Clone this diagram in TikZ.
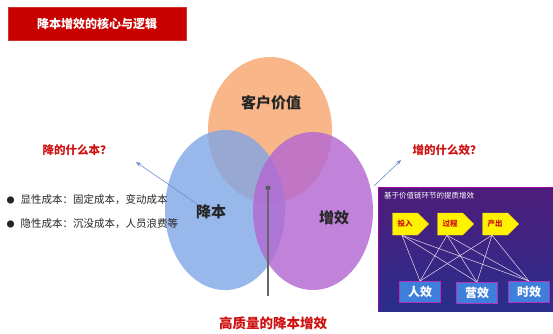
\documentclass[tikz,border=0pt]{standalone}
\usepackage{fontspec}
\setmainfont{Noto Sans CJK SC}
\newfontfamily\cjk{Noto Sans CJK SC}
\usetikzlibrary{shapes.geometric,shapes.symbols,arrows.meta}
\definecolor{tred}{HTML}{C80000}
\definecolor{qred}{HTML}{D01010}
\definecolor{corange}{HTML}{F7A46C}
\definecolor{cblue}{HTML}{7FA6E6}
\definecolor{cpurple}{HTML}{B468D2}
\definecolor{arrblue}{HTML}{6F8FD0}
\definecolor{boxtop}{HTML}{4E1C7A}
\definecolor{boxbot}{HTML}{2A2E8C}
\definecolor{ylw}{HTML}{FFF200}
\definecolor{bbox}{HTML}{3D7FDA}
\definecolor{bborder}{HTML}{B030C0}
\begin{document}
\begin{tikzpicture}[x=1pt,y=-1pt,
  venn/.style={ellipse, fill opacity=0.8, draw=none, inner sep=0pt},
  vlabel/.style={font=\cjk\fontsize{15}{15}\selectfont\bfseries, text=black!85},
  qlabel/.style={font=\cjk\fontsize{11.5}{12}\selectfont\bfseries, text=qred},
  bullettext/.style={font=\cjk\fontsize{10.5}{11}\selectfont, text=black!85, anchor=west},
  ptr/.style={draw=arrblue, line width=0.6pt, -{Stealth[length=5pt,width=4pt]}},
  sig/.style={signal, signal to=east, fill=ylw, draw=ylw!80!orange, minimum width=36pt, minimum height=22pt, inner sep=1pt, font=\cjk\fontsize{7.5}{8}\selectfont\bfseries, text=qred},
  effbox/.style={rectangle, fill=bbox, draw=bborder, line width=0.8pt, minimum width=41pt, minimum height=21pt, inner sep=0pt, font=\cjk\fontsize{12}{12}\selectfont\bfseries, text=white},
  link/.style={draw=white!85!violet, line width=0.5pt}
]
\path[use as bounding box] (0,0) rectangle (553,333);
\fill[white] (0,0) rectangle (553,333);

% title
\node[rectangle, fill=tred, draw=tred!80!white, minimum width=178pt, minimum height=33pt, inner sep=0pt,
  font=\cjk\fontsize{12}{12}\selectfont\bfseries, text=white] (title) at (97,24) {降本增效的核心与逻辑};

% venn
\node[venn, fill=corange, minimum width=124pt, minimum height=146pt] (corange) at (270,130) {};
\node[venn, fill=cblue, minimum width=120pt, minimum height=160pt] (cblue) at (225,210) {};
\node[venn, fill=cpurple, fill opacity=0.82, minimum width=120pt, minimum height=158pt] (cpurple) at (313,211) {};

\node[vlabel] (lv) at (271,103) {客户价值};
\node[vlabel] (lj) at (211,212) {降本};
\node[vlabel] (lz) at (334,218) {增效};

% center dot and line
\node[circle, fill=black!65, inner sep=0pt, minimum size=5pt] (dot) at (268,188) {};
\coordinate (dotend) at (268,296);
\draw[black!60, line width=1.2pt] (dot) -- (dotend);

% left side
\node[qlabel] (qj) at (77,150) {降的什么本？};
\coordinate (ja) at (197,204);
\coordinate (jb) at (136,162);
\draw[ptr] (ja) -- (jb);
\node[bullettext] (b1) at (3,200) {{\fontsize{8}{8}\selectfont ●}\hspace{6pt}显性成本：固定成本，变动成本};
\node[bullettext] (b2) at (3,224) {{\fontsize{8}{8}\selectfont ●}\hspace{6pt}隐性成本：沉没成本，人员浪费等};

% right side
\node[qlabel] (qz) at (447,150) {增的什么效？};
\coordinate (za) at (374,186);
\coordinate (zb) at (401,160);
\draw[ptr] (za) -- (zb);

% inset
\shade[top color=boxtop, bottom color=boxbot] (378,187) rectangle (553,311);
\draw[violet!70!magenta, line width=1pt] (378,311) -- (378,187) -- (553,187);
\node[anchor=west, font=\cjk\fontsize{7.5}{8}\selectfont, text=white, inner sep=0pt] (ititle) at (384,196) {基于价值链环节的提质增效};

\node[sig] (tr) at (405,224) {投入};
\node[sig] (gc) at (450,224) {过程};
\node[sig] (cc) at (495,224) {产出};

\node[effbox] (rx) at (420,292) {人效};
\node[effbox] (yx) at (477,293) {营效};
\node[effbox] (sx) at (529,292) {时效};

\foreach \a in {tr,gc,cc}{
  \foreach \b in {rx,yx,sx}{
    \draw[link] ([xshift=-3pt]\a.south) -- (\b.north);
  }
}

% bottom
\node[font=\cjk\fontsize{13.5}{14}\selectfont\bfseries, text=qred] (bottom) at (273,323) {高质量的降本增效};
\end{tikzpicture}
\end{document}
